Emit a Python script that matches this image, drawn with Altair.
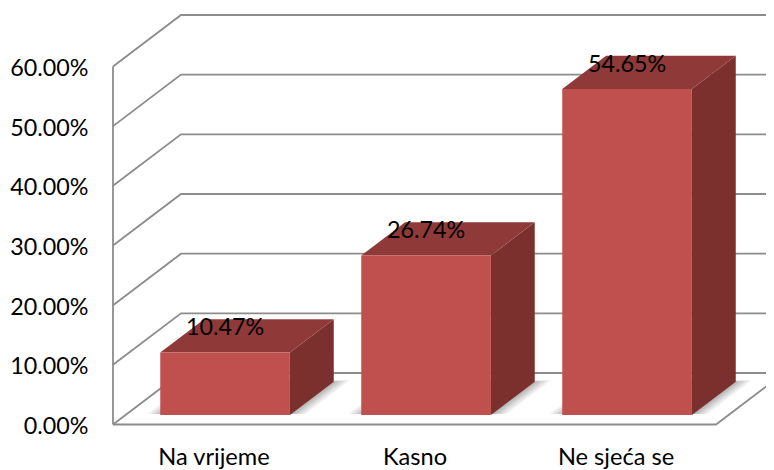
import altair as alt
import pandas as pd

categories = ["Na vrijeme", "Kasno", "Ne sjeća se"]
values = [0.1047, 0.2674, 0.5465]
y_ticks = [0.0, 0.1, 0.2, 0.3, 0.4, 0.5, 0.6]

# oblique projection of the 3-D box: depth 0..1 shifts x (in categories) and y (in value units)
DX = 68 / 201
DY = 51.5 / 596.7
D0, D1 = 0.185, 0.83
BAR = 0.645
X_END = 3.4
BAR_SHIFT = -0.005

FONT = "Lato"
FS = 23.3
FS_X = 23.6
FRONT, TOP, SIDE, GRID = "#C0504D", "#8F3A38", "#7B302E", "#8C8C8C"

xs = alt.Scale(domain=[(105 - 113) / 201, (766 - 113) / 201], nice=False, zero=False)
ys = alt.Scale(domain=[(424.5 - 430) / 596.7, (424.5 - 8) / 596.7], nice=False, zero=False)
xa = alt.Axis(values=[0.5, 1.5, 2.5], title=None, domain=False, ticks=False, grid=False, labelPadding=15,
              labelExpr="['Na vrijeme','Kasno','Ne sjeća se'][floor(datum.value)]",
              labelFont=FONT, labelFontSize=FS_X, labelColor="#000000", labelFlush=False, labelOverlap=False)
ya = alt.Axis(values=y_ticks, format=".2%", title=None, domain=False, ticks=False, grid=False, labelPadding=17,
              labelOffset=2, labelFont=FONT, labelFontSize=FS, labelColor="#000000")
X = alt.X("x:Q", scale=xs, axis=xa)
Y = alt.Y("y:Q", scale=ys, axis=ya)

def px(c, d):
    return c + d * DX

def py(v, d):
    return v + d * DY

# wall lines
grid_rows = []
for t in y_ticks:
    pts = [(0, 0), (0, 1), (X_END, 1)]
    for i, (c, d) in enumerate(pts):
        grid_rows.append(dict(line=f"g{t}", o=i, x=px(c, d), y=py(t, d)))
for i, t in enumerate([0, 1]):
    grid_rows.append(dict(line="wall", o=i, x=0, y=y_ticks[-1] * t))
for i, (c, d) in enumerate([(0, 0), (3, 0), (3, 1), (3 + 0.2, 1)]):
    grid_rows.append(dict(line="floor", o=i, x=px(c, d), y=py(0, d)))

front, top, side, shadow = [], [], [], []
for i, (cat, v) in enumerate(zip(categories, values)):
    x0 = i + 0.5 - BAR / 2 + BAR_SHIFT
    x1 = i + 0.5 + BAR / 2 + BAR_SHIFT
    front.append(dict(cat=cat, x=px(x0, D0), x2=px(x1, D0), y=py(0, D0), y2=py(v, D0)))
    for d in (D0, D1):
        top.append(dict(bar=cat, y=py(v, d), x=px(x0, d), x2=px(x1, d)))
        side.append(dict(bar=cat, x=px(x1, d), y=py(v, d), y2=py(0, d)))
    for k, grow in enumerate([0.07, 0.055, 0.04, 0.028, 0.016, 0.006]):
        for d in (D0 + 0.02, D1 + grow * 0.4):
            shadow.append(dict(bar=f"{cat}{k}", y=py(0, d), x=px(x0 - grow, d), x2=px(x1 + grow, d)))

labels = pd.DataFrame(dict(x=[px(i + 0.5 + BAR_SHIFT, D0) for i in range(3)],
                           y=[py(v, D0) for v in values], v=values))

lines = alt.Chart(pd.DataFrame(grid_rows)).mark_line(color=GRID, strokeWidth=1.8, clip=True).encode(
    x=X, y=Y, detail="line:N", order="o:Q")

shadows = alt.Chart(pd.DataFrame(shadow)).mark_area(orient="horizontal", color="#444444", opacity=0.08, clip=True).encode(
    y=Y, x=X, x2="x2:Q", detail="bar:N")

fronts = alt.Chart(pd.DataFrame(front)).mark_rect(color=FRONT).encode(x=X, x2="x2:Q", y=Y, y2="y2:Q")

tops = alt.Chart(pd.DataFrame(top)).mark_area(orient="horizontal", color=TOP).encode(
    y=Y, x=X, x2="x2:Q", detail="bar:N")

sides = alt.Chart(pd.DataFrame(side)).mark_area(color=SIDE).encode(
    x=X, y=Y, y2="y2:Q", detail="bar:N")

texts = alt.Chart(labels).mark_text(font=FONT, fontSize=FS, color="#000000", dy=-24).encode(
    x=X, y=Y, text=alt.Text("v:Q", format=".2%"))

chart = alt.layer(lines, shadows, sides, tops, fronts, texts).properties(
    width=661, height=422, autosize="none",
    padding={"left": 97, "top": 0, "right": 0, "bottom": 40},
).configure_view(stroke=None)

chart.save("out.html", embed_options={"renderer": "svg", "actions": False})
